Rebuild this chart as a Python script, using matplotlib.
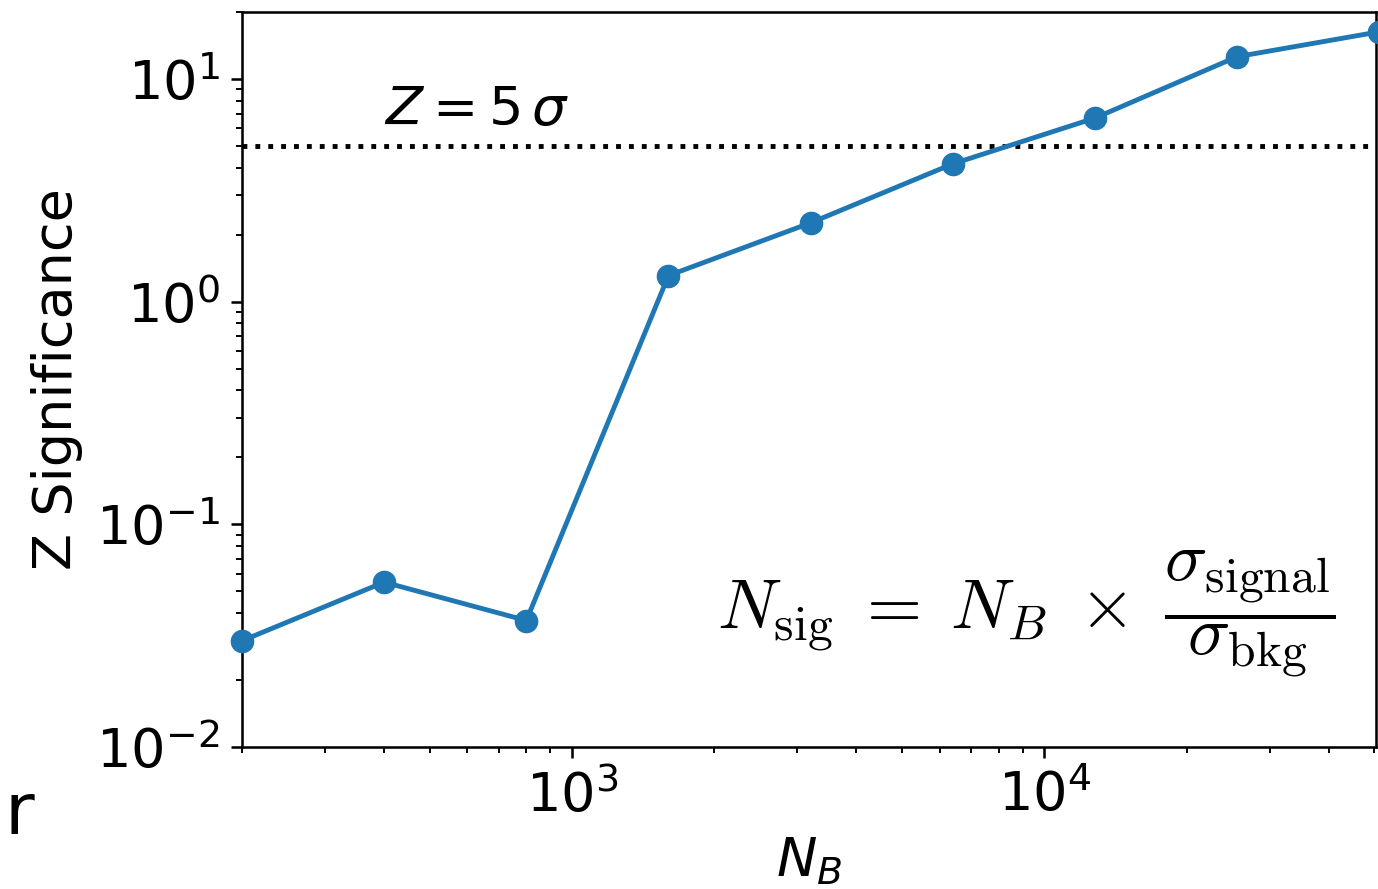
import matplotlib
matplotlib.use('Agg')
import matplotlib.pyplot as plt
import numpy as np

# number of background events and the resulting significance
n_bkg = [200, 400, 800, 1600, 3200, 6400, 12800, 25600, 51200]
z_sig = [0.030, 0.055, 0.037, 1.31, 2.26, 4.16, 6.68, 12.6, 16.3]
z_discovery = 5

s = 2.3  # scale factor for line widths / ticks
plt.rcParams['mathtext.fontset'] = 'dejavusans'
plt.rcParams['axes.linewidth'] = 0.8 * s
for ax_name in ['xtick', 'ytick']:
    plt.rcParams[f'{ax_name}.major.size'] = 3.5 * s
    plt.rcParams[f'{ax_name}.minor.size'] = 2.0 * s
    plt.rcParams[f'{ax_name}.major.width'] = 0.8 * s
    plt.rcParams[f'{ax_name}.minor.width'] = 0.6 * s
    plt.rcParams[f'{ax_name}.major.pad'] = 3.5 * s
    plt.rcParams[f'{ax_name}.labelsize'] = 39

fig = plt.figure(figsize=(13.78, 8.89), dpi=100)
ax = fig.add_axes([0.1756, 0.1597, 0.8233, 0.8268])

ax.plot(n_bkg, z_sig, '-o', color='#1f77b4', lw=3.5, markersize=16, clip_on=False, zorder=3)
ax.axhline(z_discovery, color='k', ls=':', lw=3.5)
ax.set_xscale('log')
ax.set_yscale('log')
ax.set_xlim(200, 50500)
ax.set_ylim(0.01, 20)

ax.text(400, 6.2, r'$Z = 5\,\sigma$', fontsize=39, va='baseline')
ax.text(0.964, 0.18,
        r'$N_{\rm sig}\;=\;N_B\;\times\;\dfrac{\sigma_{\rm signal}}{\sigma_{\rm bkg}}$',
        transform=ax.transAxes, fontsize=51, ha='right', va='center',
        math_fontfamily='cm')

ax.set_xlabel(r'$N_B$', fontsize=39, labelpad=9)
ax.set_ylabel('Z Significance', fontsize=39, labelpad=9)
fig.text(0.003, 0.062, 'r', fontsize=52, va='baseline')

plt.savefig('out.png', dpi=100)
